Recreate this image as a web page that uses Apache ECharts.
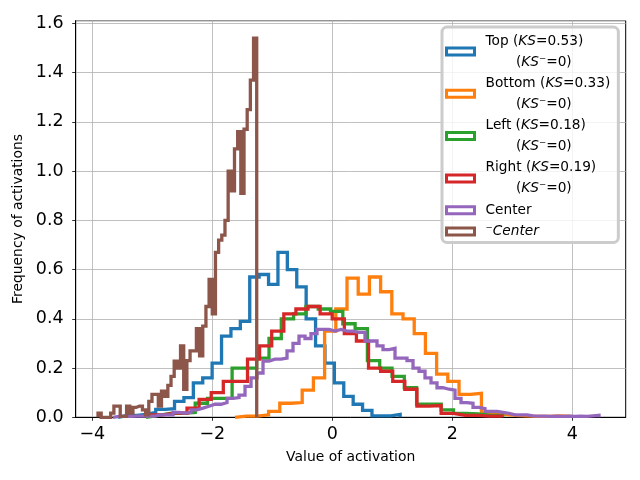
<!DOCTYPE html>
<html lang="en">
<head>
    <meta charset="UTF-8">
    <title>Value of activation</title>
    <script src="https://cdn.jsdelivr.net/npm/echarts@6.0.0/dist/echarts.min.js" type="text/javascript"></script>
</head>
<body>
<style>
    html, body {
        margin: 0;
        background: #fff;
    }

    #main {
        width: 640px;
        height: 480px;
    }
</style>
<div id="main"></div>
<script type="text/javascript">
    // each histogram: first bin edge, bin width, bin heights
    var topStart = -3.57, topWidth = 0.1567
    var topCounts = [0.008, 0.008, 0.012, 0.02, 0.032, 0.035, 0.065, 0.08, 0.14, 0.16,
        0.22, 0.33, 0.36, 0.39, 0.57, 0.58, 0.54, 0.67, 0.60, 0.53,
        0.40, 0.29, 0.22, 0.14, 0.085, 0.053, 0.028, 0.006, 0.006, 0.012]

    var bottomStart = -1.622, bottomWidth = 0.1867
    var bottomCounts = [0.005, 0.005, 0.01, 0.024, 0.057, 0.06, 0.11, 0.16, 0.35, 0.44,
        0.565, 0.50, 0.57, 0.51, 0.42, 0.40, 0.34, 0.26, 0.175, 0.146,
        0.093, 0.097, 0.016, 0.012, 0.008, 0.006, 0.004, 0.004, 0.006, 0.004]

    var leftStart = -3.105, leftWidth = 0.205
    var leftCounts = [0.008, 0.016, 0.016, 0.02, 0.057, 0.077, 0.077, 0.2, 0.2, 0.24,
        0.32, 0.40, 0.42, 0.45, 0.44, 0.43, 0.38, 0.36, 0.23, 0.2,
        0.166, 0.12, 0.053, 0.053, 0.03, 0.016, 0.014, 0.008, 0.008]

    var rightStart = -3.027, rightWidth = 0.2017
    var rightCounts = [0.01, 0.017, 0.017, 0.037, 0.073, 0.1, 0.146, 0.146, 0.236, 0.29,
        0.35, 0.42, 0.44, 0.45, 0.42, 0.40, 0.34, 0.31, 0.2, 0.187,
        0.146, 0.114, 0.045, 0.048, 0.016, 0.008, 0.008, 0.005, 0.005]

    var centerStart = -3.655, centerWidth = 0.1
    var centerCounts = [0.004, 0.004, 0.004, 0.005, 0.005, 0.005, 0.005, 0.01, 0.01, 0.01,
        0.02, 0.017, 0.02, 0.03, 0.037, 0.045, 0.053, 0.053, 0.06, 0.077,
        0.08, 0.09, 0.126, 0.16, 0.18, 0.228, 0.236, 0.236, 0.24, 0.27,
        0.30, 0.33, 0.32, 0.34, 0.357, 0.357, 0.35, 0.357, 0.35, 0.35,
        0.345, 0.345, 0.31, 0.31, 0.29, 0.275, 0.28, 0.24, 0.24, 0.23,
        0.2, 0.187, 0.16, 0.14, 0.12, 0.114, 0.11, 0.077, 0.06, 0.057,
        0.04, 0.035, 0.024, 0.024, 0.02, 0.016, 0.01, 0.01, 0.01, 0.006,
        0.005, 0.005, 0.004, 0.005, 0.004, 0.005, 0.004, 0.005, 0.004, 0.006,
        0.008]

    var notCenterStart = -3.905, notCenterWidth = 0.0529
    var notCenterCounts = [0.017, 0.0, 0.0, 0.0, 0.017, 0.045, 0.045, 0.004, 0.004, 0.045,
        0.017, 0.04, 0.045, 0.045, 0.03, 0.01, 0.065, 0.093, 0.093, 0.045,
        0.106, 0.085, 0.13, 0.166, 0.228, 0.2, 0.29, 0.114, 0.23, 0.27,
        0.27, 0.36, 0.25, 0.37, 0.45, 0.56, 0.42, 0.67, 0.72, 0.74,
        0.80, 1.0, 0.92, 1.09, 1.16, 0.91, 1.17, 1.25, 1.37, 1.54]

    var seriesNames = ['Top', 'Bottom', 'Left', 'Right', 'Center', '⁻Center']
    var ksValues = ['0.53', '0.33', '0.18', '0.19']
    var ksMinusValues = ['0', '0', '0', '0']
    var xTicks = [-4, -2, 0, 2, 4]

    var colors = ['#1f77b4', '#ff7f0e', '#2ca02c', '#d62728', '#9467bd', '#8c564b']
    var font = 'DejaVu Sans'

    // matplotlib histtype='step' outline
    function stepPoints(start, width, counts) {
        var pts = [[start, 0]]
        counts.forEach(function (c, i) {
            pts.push([start + i * width, c])
            pts.push([start + (i + 1) * width, c])
        })
        pts.push([start + counts.length * width, 0])
        return pts
    }

    var hists = [
        stepPoints(topStart, topWidth, topCounts),
        stepPoints(bottomStart, bottomWidth, bottomCounts),
        stepPoints(leftStart, leftWidth, leftCounts),
        stepPoints(rightStart, rightWidth, rightCounts),
        stepPoints(centerStart, centerWidth, centerCounts),
        stepPoints(notCenterStart, notCenterWidth, notCenterCounts)
    ]

    function legendLabel(name) {
        var i = seriesNames.indexOf(name)
        if (i < 4) {
            return '{n|' + name + ' (}{i|KS}{n|=' + ksValues[i] + ')}\n' +
                '{n|       (}{i|KS⁻}{n|=' + ksMinusValues[i] + ')}'
        }
        if (name === 'Center') return '{n|Center}'
        return '{i|' + name + '}'
    }

    var txt = {fontFamily: font, fontSize: 13.7, lineHeight: 21, color: '#000'}

    var option = {
        animation: false,
        backgroundColor: '#fff',
        grid: {
            left: 75.7, right: 14.3, top: 20.7, bottom: 62.7,
            show: true, borderColor: '#000', borderWidth: 1
        },
        legend: {
            orient: 'vertical',
            left: 442,
            top: 27,
            padding: [7, 8, 4, 3],
            itemGap: 7.3,
            itemWidth: 28,
            itemHeight: 7,
            selectedMode: false,
            backgroundColor: 'rgba(255,255,255,0.8)',
            borderColor: '#cccccc',
            borderWidth: 3,
            borderRadius: 5,
            data: seriesNames.map(function (n, i) {
                return {
                    name: n,
                    icon: 'rect',
                    itemStyle: {color: '#fff', borderColor: colors[i], borderWidth: 3}
                }
            }),
            formatter: legendLabel,
            textStyle: {
                padding: [0, 0, 0, 6],
                rich: {
                    n: txt,
                    i: Object.assign({}, txt, {fontStyle: 'italic'})
                }
            }
        },
        xAxis: {
            type: 'value',
            min: -4.277,
            max: 4.89,
            name: 'Value of activation',
            nameLocation: 'middle',
            nameGap: 33,
            nameTextStyle: {fontFamily: font, fontSize: 13.9, color: '#000'},
            axisLine: {onZero: false, lineStyle: {color: '#000', width: 1}},
            axisTick: {length: 3.5, customValues: xTicks, lineStyle: {color: '#000', width: 0.8}},
            axisLabel: {
                fontFamily: font, fontSize: 17.5, color: '#000', margin: 8,
                customValues: xTicks,
                formatter: function (v) {
                    return String(v).replace('-', '\u2212')
                }
            },
            splitLine: {show: true, lineStyle: {color: '#b0b0b0', width: 0.8}}
        },
        yAxis: {
            type: 'value',
            min: 0,
            max: 1.611,
            interval: 0.2,
            name: 'Frequency of activations',
            nameLocation: 'middle',
            nameGap: 45,
            nameTextStyle: {fontFamily: font, fontSize: 13.9, color: '#000'},
            axisLine: {show: true, onZero: false, lineStyle: {color: '#000', width: 1}},
            axisTick: {show: true, length: 3.5, lineStyle: {color: '#000', width: 0.8}},
            axisLabel: {
                fontFamily: font, fontSize: 17.5, color: '#000', margin: 12,
                showMaxLabel: false,
                formatter: function (v) {
                    return v.toFixed(1)
                }
            },
            splitLine: {show: true, lineStyle: {color: '#b0b0b0', width: 0.8}}
        },
        series: hists.map(function (pts, i) {
            return {
                name: seriesNames[i],
                type: 'line',
                data: pts,
                symbol: 'none',
                showSymbol: false,
                color: colors[i],
                lineStyle: {width: 3.3, color: colors[i], join: 'miter'},
                clip: true
            }
        })
    }

    var myChart = echarts.init(document.getElementById('main'))
    myChart.setOption(option)
</script>
</body>
</html>
